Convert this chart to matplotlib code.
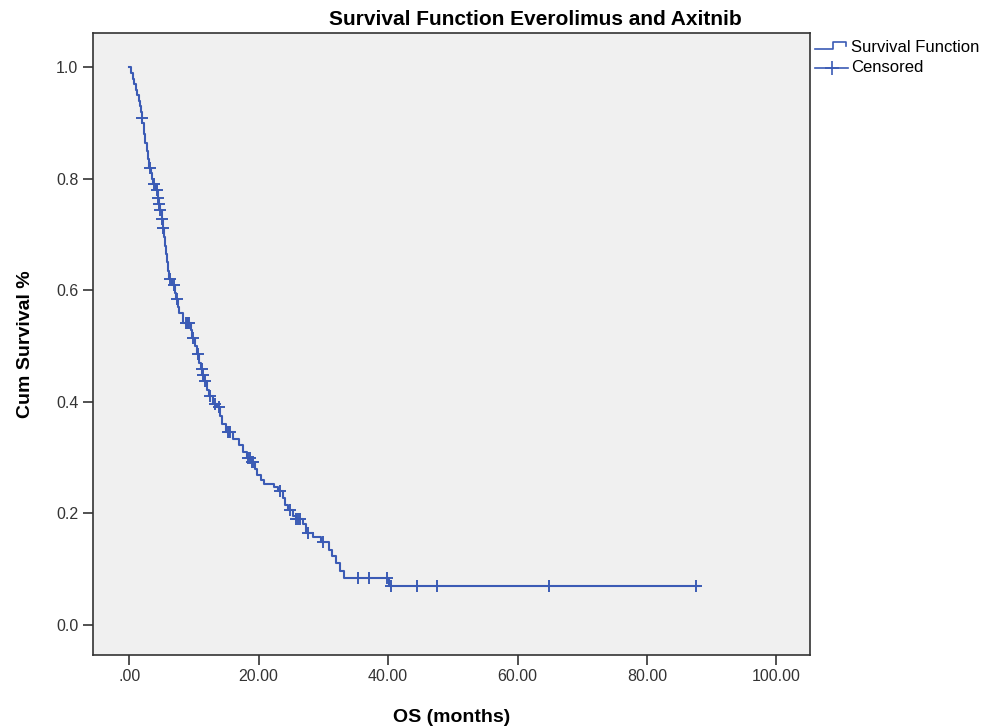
import matplotlib
matplotlib.use('Agg')
import matplotlib.pyplot as plt
from matplotlib.lines import Line2D
import numpy as np

plt.rcParams['font.family'] = ['Liberation Sans', 'DejaVu Sans']

# Kaplan-Meier steps: time of drop (months) and survival after it
event_times = [0.3, 0.6, 0.8, 1.0, 1.2, 1.45, 1.6, 1.75, 1.9, 2.0, 2.3, 2.5, 2.7, 2.9,
               3.1, 3.3, 3.5, 3.7, 4.1, 4.4, 4.6, 4.75, 5.0, 5.15, 5.35, 5.5, 5.65, 5.8,
               5.95, 6.15, 6.6, 7.0, 7.3, 7.5, 7.65, 8.3, 9.55, 9.75, 10.1, 10.4, 10.8,
               11.1, 11.3, 11.6, 12.0, 12.3, 13.0, 13.6, 14.1, 14.4, 14.9, 16.0, 16.9,
               17.6, 18.2, 18.8, 19.4, 19.7, 20.3, 20.9, 22.3, 23.0, 23.8, 24.1, 24.5,
               25.3, 25.7, 26.8, 27.3, 28.4, 29.6, 30.9, 31.3, 31.9, 32.6, 33.2, 40.2]
survival = [0.99, 0.98, 0.97, 0.96, 0.95, 0.94, 0.93, 0.92, 0.91, 0.90, 0.88, 0.865, 0.85,
            0.835, 0.82, 0.81, 0.80, 0.79, 0.78, 0.765, 0.755, 0.745, 0.728, 0.712, 0.695,
            0.68, 0.665, 0.65, 0.635, 0.62, 0.61, 0.595, 0.585, 0.57, 0.56, 0.542, 0.528,
            0.514, 0.50, 0.485, 0.47, 0.458, 0.449, 0.437, 0.422, 0.41, 0.396, 0.39,
            0.375, 0.36, 0.345, 0.333, 0.322, 0.31, 0.30, 0.292, 0.28, 0.268, 0.26,
            0.253, 0.247, 0.24, 0.228, 0.215, 0.205, 0.196, 0.19, 0.18, 0.165, 0.157,
            0.148, 0.135, 0.123, 0.11, 0.097, 0.084, 0.069]
censor_times = [1.96, 3.25, 3.76, 4.28, 4.43, 4.64, 4.79, 5.05, 5.2, 6.34, 6.85, 7.37,
                8.7, 8.9, 9.1, 9.3, 9.79, 10.6, 11.2, 11.4, 11.7, 12.5, 13.3, 13.8, 15.2,
                15.4, 15.6, 18.4, 18.6, 18.9, 19.2, 23.3, 24.9, 25.8, 26.1, 26.4, 27.7,
                30.0, 35.3, 37.1, 39.9, 40.4, 44.5, 47.6, 64.9, 87.6]
last_time = 88.0

x_ticks = [0, 20, 40, 60, 80, 100]
x_tick_labels = ['.00', '20.00', '40.00', '60.00', '80.00', '100.00']
y_ticks = [0.0, 0.2, 0.4, 0.6, 0.8, 1.0]

blue = '#3B5BB5'

t = np.array([0.0] + event_times + [last_time])
s = np.array([1.0] + survival + [survival[-1]])
# survival value at each censored time
idx = np.searchsorted(t, censor_times, side='right') - 1
cs = s[idx]

fig = plt.figure(figsize=(10, 7.26), dpi=100)
ax = fig.add_axes([0.093, 0.098, 0.717, 0.856])
ax.set_facecolor('#F0F0F0')

ax.step(t, s, where='post', color=blue, lw=1.5)
ax.plot(censor_times, cs, linestyle='none', marker='+', color=blue,
        markersize=8, markeredgewidth=1.4)

ax.set_xlim(-5.6, 105.2)
ax.set_ylim(-0.054, 1.061)
ax.set_xticks(x_ticks)
ax.set_xticklabels(x_tick_labels)
ax.set_yticks(y_ticks)
ax.set_yticklabels([f'{v:.1f}' for v in y_ticks])
ax.tick_params(direction='out', length=7, width=1.2, color='#333333',
               labelsize=11.5, labelcolor='#333333')
for sp in ax.spines.values():
    sp.set_color('#333333')
    sp.set_linewidth(1.2)

ax.set_xlabel('OS (months)', fontsize=14, fontweight='bold', labelpad=18)
ax.set_ylabel('Cum Survival %', fontsize=14, fontweight='bold', labelpad=16)
fig.text(0.535, 0.973, 'Survival Function Everolimus and Axitnib', ha='center',
         va='center', fontsize=15, fontweight='bold')

# legend drawn beside the plot area
fig.add_artist(Line2D([0.815, 0.833, 0.833, 0.846, 0.846],
                      [0.933, 0.933, 0.942, 0.942, 0.937],
                      color=blue, lw=1.2, transform=fig.transFigure))
fig.text(0.851, 0.935, 'Survival Function', va='center', fontsize=12)
fig.add_artist(Line2D([0.815, 0.848], [0.907, 0.907], color=blue, lw=1.2,
                      transform=fig.transFigure))
fig.add_artist(Line2D([0.8315], [0.907], marker='+', color=blue, markersize=10,
                      markeredgewidth=1.2, transform=fig.transFigure))
fig.text(0.851, 0.907, 'Censored', va='center', fontsize=12)

fig.savefig('out.png', dpi=100)
